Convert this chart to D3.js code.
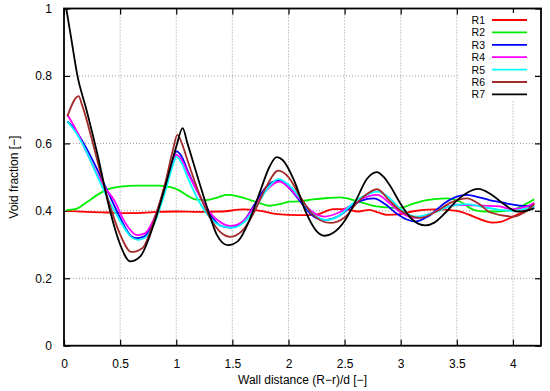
<!DOCTYPE html>
<html>
<head>
<meta charset="utf-8">
<script src="https://cdn.jsdelivr.net/npm/d3@7.9.0/dist/d3.min.js"></script>
<style>
  body { margin: 0; background: #fff; }
  svg text { font-family: "Liberation Sans", Arial, sans-serif; font-size: 12px; fill: #000; }
</style>
</head>
<body>
<svg id="chart" width="550" height="391"></svg>
<script>
// series names and colours
const names = ['R1', 'R2', 'R3', 'R4', 'R5', 'R6', 'R7'];
const colors = ['#ff0000', '#00ee00', '#0000ff', '#ff00ff', '#00ffff', '#a52a2a', '#000000'];

const xTicks = [0, 0.5, 1, 1.5, 2, 2.5, 3, 3.5, 4];
const yTicks = [0, 0.2, 0.4, 0.6, 0.8, 1];

// [wall distance, void fraction]
const r1 = [[0.02,0.40],[0.2,0.397],[0.4,0.395],[0.6,0.393],[0.8,0.396],[1.0,0.398],[1.2,0.397],[1.4,0.398],
  [1.6,0.404],[1.75,0.400],[1.9,0.390],[2.1,0.387],[2.25,0.389],[2.4,0.405],[2.5,0.405],[2.62,0.398],
  [2.72,0.403],[2.8,0.395],[2.88,0.388],[3.0,0.390],[3.1,0.398],[3.3,0.404],[3.5,0.400],[3.65,0.383],
  [3.75,0.370],[3.82,0.365],[3.9,0.368],[3.97,0.378],[4.1,0.400],[4.19,0.423]];
const r2 = [[0.02,0.402],[0.1,0.405],[0.2,0.425],[0.3,0.448],[0.4,0.465],[0.5,0.472],[0.65,0.475],[0.85,0.475],
  [0.95,0.47],[1.03,0.46],[1.1,0.445],[1.18,0.433],[1.27,0.432],[1.37,0.44],[1.45,0.447],[1.55,0.443],
  [1.66,0.432],[1.75,0.422],[1.83,0.415],[1.92,0.42],[2.01,0.427],[2.1,0.428],[2.22,0.434],[2.35,0.438],
  [2.46,0.44],[2.58,0.432],[2.68,0.422],[2.76,0.415],[2.88,0.41],[2.99,0.408],[3.1,0.42],[3.23,0.432],
  [3.41,0.437],[3.53,0.427],[3.65,0.403],[3.75,0.398],[3.85,0.398],[4.0,0.403],[4.1,0.418],[4.19,0.434]];
const r3 = [[0.03,0.665],[0.1,0.64],[0.2,0.585],[0.3,0.52],[0.4,0.45],[0.5,0.38],[0.6,0.325],[0.65,0.319],
  [0.72,0.325],[0.8,0.37],[0.9,0.47],[0.97,0.55],[1.0,0.576],[1.05,0.56],[1.1,0.52],[1.2,0.45],[1.3,0.39],
  [1.4,0.355],[1.48,0.35],[1.6,0.37],[1.7,0.42],[1.8,0.47],[1.91,0.49],[2.0,0.47],[2.1,0.43],[2.2,0.39],
  [2.32,0.373],[2.45,0.385],[2.55,0.41],[2.65,0.43],[2.76,0.437],[2.86,0.42],[2.96,0.393],[3.05,0.375],
  [3.13,0.368],[3.25,0.385],[3.4,0.425],[3.5,0.442],[3.59,0.447],[3.7,0.44],[3.79,0.432],[3.9,0.425],
  [4.03,0.417],[4.19,0.413]];
const r4 = [[0.03,0.685],[0.1,0.645],[0.2,0.575],[0.3,0.505],[0.38,0.462],[0.45,0.43],[0.52,0.38],[0.6,0.34],
  [0.65,0.328],[0.72,0.333],[0.8,0.375],[0.9,0.47],[0.97,0.54],[1.0,0.566],[1.05,0.55],[1.1,0.515],[1.2,0.45],
  [1.3,0.395],[1.4,0.365],[1.48,0.355],[1.6,0.37],[1.7,0.415],[1.8,0.46],[1.92,0.487],[2.0,0.47],[2.1,0.435],
  [2.2,0.4],[2.32,0.383],[2.45,0.395],[2.55,0.415],[2.65,0.435],[2.79,0.447],[2.9,0.423],[3.0,0.395],
  [3.14,0.379],[3.25,0.39],[3.4,0.41],[3.5,0.418],[3.65,0.416],[3.88,0.413],[3.99,0.405],[4.1,0.41],[4.19,0.423]];
const r5 = [[0.03,0.665],[0.1,0.635],[0.2,0.575],[0.3,0.5],[0.4,0.43],[0.5,0.37],[0.6,0.322],[0.66,0.314],
  [0.73,0.322],[0.8,0.36],[0.9,0.455],[0.97,0.535],[1.0,0.56],[1.05,0.54],[1.1,0.5],[1.2,0.43],[1.3,0.38],
  [1.4,0.355],[1.5,0.35],[1.6,0.365],[1.7,0.405],[1.8,0.46],[1.91,0.494],[2.0,0.478],[2.1,0.44],[2.2,0.395],
  [2.34,0.373],[2.45,0.385],[2.55,0.415],[2.65,0.44],[2.8,0.457],[2.9,0.438],[3.0,0.405],[3.14,0.383],
  [3.3,0.395],[3.45,0.415],[3.59,0.42],[3.75,0.41],[3.88,0.403],[4.0,0.40],[4.19,0.413]];
const r6 = [[0.03,0.68],[0.13,0.74],[0.16,0.715],[0.25,0.61],[0.3,0.545],[0.4,0.425],[0.5,0.33],[0.6,0.278],
  [0.7,0.29],[0.8,0.37],[0.9,0.48],[0.97,0.58],[1.01,0.625],[1.05,0.6],[1.1,0.55],[1.2,0.455],[1.3,0.38],
  [1.4,0.335],[1.48,0.323],[1.6,0.345],[1.7,0.4],[1.8,0.47],[1.91,0.519],[2.0,0.5],[2.1,0.445],[2.2,0.395],
  [2.37,0.364],[2.5,0.38],[2.6,0.42],[2.7,0.45],[2.79,0.464],[2.9,0.43],[3.0,0.4],[3.17,0.379],[3.3,0.395],
  [3.45,0.425],[3.59,0.437],[3.7,0.42],[3.8,0.395],[4.0,0.383],[4.1,0.395],[4.19,0.42]];
const r7 = [[0.02,1.0],[0.06,0.92],[0.12,0.8],[0.2,0.70],[0.3,0.565],[0.41,0.40],[0.5,0.30],[0.59,0.25],
  [0.68,0.265],[0.8,0.36],[0.9,0.47],[1.0,0.59],[1.057,0.645],[1.1,0.6],[1.2,0.49],[1.3,0.385],[1.36,0.33],
  [1.46,0.298],[1.55,0.31],[1.65,0.37],[1.75,0.46],[1.83,0.53],[1.895,0.559],[1.95,0.55],[2.05,0.49],
  [2.15,0.40],[2.25,0.34],[2.325,0.326],[2.4,0.335],[2.5,0.37],[2.6,0.43],[2.7,0.495],[2.786,0.515],
  [2.85,0.50],[2.9,0.477],[3.0,0.42],[3.1,0.375],[3.22,0.357],[3.3,0.365],[3.4,0.395],[3.5,0.43],
  [3.6,0.455],[3.69,0.465],[3.8,0.45],[3.9,0.425],[4.04,0.398],[4.12,0.40],[4.19,0.408]];

const series = [r1, r2, r3, r4, r5, r6, r7];

const svg = d3.select('#chart');
const mLeft = 64, mRight = 541, mTop = 8.5, mBottom = 345.7;

const x = d3.scaleLinear().domain([0, 4.25]).range([mLeft, mRight]);
const y = d3.scaleLinear().domain([0, 1]).range([mBottom, mTop]);

// grid
svg.append('g').selectAll('line')
  .data(xTicks.filter(d => d > 0))
  .join('line')
  .attr('x1', d => x(d)).attr('x2', d => x(d))
  .attr('y1', mTop).attr('y2', mBottom)
  .attr('stroke', '#999').attr('stroke-width', 1).attr('stroke-dasharray', '1,2');
svg.append('g').selectAll('line')
  .data(yTicks.filter(d => d > 0 && d < 1))
  .join('line')
  .attr('x1', mLeft).attr('x2', mRight)
  .attr('y1', d => y(d)).attr('y2', d => y(d))
  .attr('stroke', '#999').attr('stroke-width', 1).attr('stroke-dasharray', '1,2');

// axes with inward ticks
const tick = 6;
svg.append('g').attr('transform', `translate(0,${mBottom})`)
  .call(d3.axisBottom(x).tickValues(xTicks).tickSize(-tick).tickPadding(tick + 8).tickFormat(d3.format('')))
  .call(g => g.select('.domain').remove());
svg.append('g').attr('transform', `translate(0,${mTop})`)
  .call(d3.axisTop(x).tickValues(xTicks).tickSize(-tick).tickFormat(''))
  .call(g => g.select('.domain').remove());
svg.append('g').attr('transform', `translate(${mLeft},0)`)
  .call(d3.axisLeft(y).tickValues(yTicks).tickSize(-tick).tickPadding(tick + 6).tickFormat(d3.format('')))
  .call(g => g.select('.domain').remove());
svg.append('g').attr('transform', `translate(${mRight},0)`)
  .call(d3.axisRight(y).tickValues(yTicks).tickSize(-tick).tickFormat(''))
  .call(g => g.select('.domain').remove());
svg.selectAll('.tick line').attr('stroke', '#000').attr('stroke-width', 1.2);
svg.selectAll('.tick text').attr('font-size', 12).attr('font-family', '"Liberation Sans", Arial, sans-serif');

// legend backing
svg.append('rect')
  .attr('x', 460).attr('y', 13).attr('width', 73).attr('height', 88)
  .attr('fill', '#fff');

// curves
const line = d3.line()
  .x(d => x(d[0]))
  .y(d => y(d[1]))
  .curve(d3.curveMonotoneX);

series.forEach((s, i) => {
  svg.append('path')
    .attr('d', line(s))
    .attr('fill', 'none')
    .attr('stroke', colors[i])
    .attr('stroke-width', 1.8)
    .attr('stroke-linejoin', 'round');
});

// frame
svg.append('rect')
  .attr('x', mLeft).attr('y', mTop)
  .attr('width', mRight - mLeft).attr('height', mBottom - mTop)
  .attr('fill', 'none').attr('stroke', '#000').attr('stroke-width', 1.8);

// legend
names.forEach((n, i) => {
  const ly = 20 + i * 12.4;
  svg.append('text')
    .attr('x', 485).attr('y', ly + 4)
    .attr('text-anchor', 'end')
    .style('font-size', '10.5px')
    .text(n);
  svg.append('line')
    .attr('x1', 492).attr('x2', 527)
    .attr('y1', ly).attr('y2', ly)
    .attr('stroke', colors[i]).attr('stroke-width', 1.8);
});

// axis titles
svg.append('text')
  .attr('x', (mLeft + mRight) / 2).attr('y', 384)
  .attr('text-anchor', 'middle')
  .text('Wall distance (R\u2212r)/d [\u2212]');
svg.append('text')
  .attr('transform', `translate(18,${(mTop + mBottom) / 2}) rotate(-90)`)
  .attr('text-anchor', 'middle')
  .text('Void fraction [\u2212]');
</script>
</body>
</html>
